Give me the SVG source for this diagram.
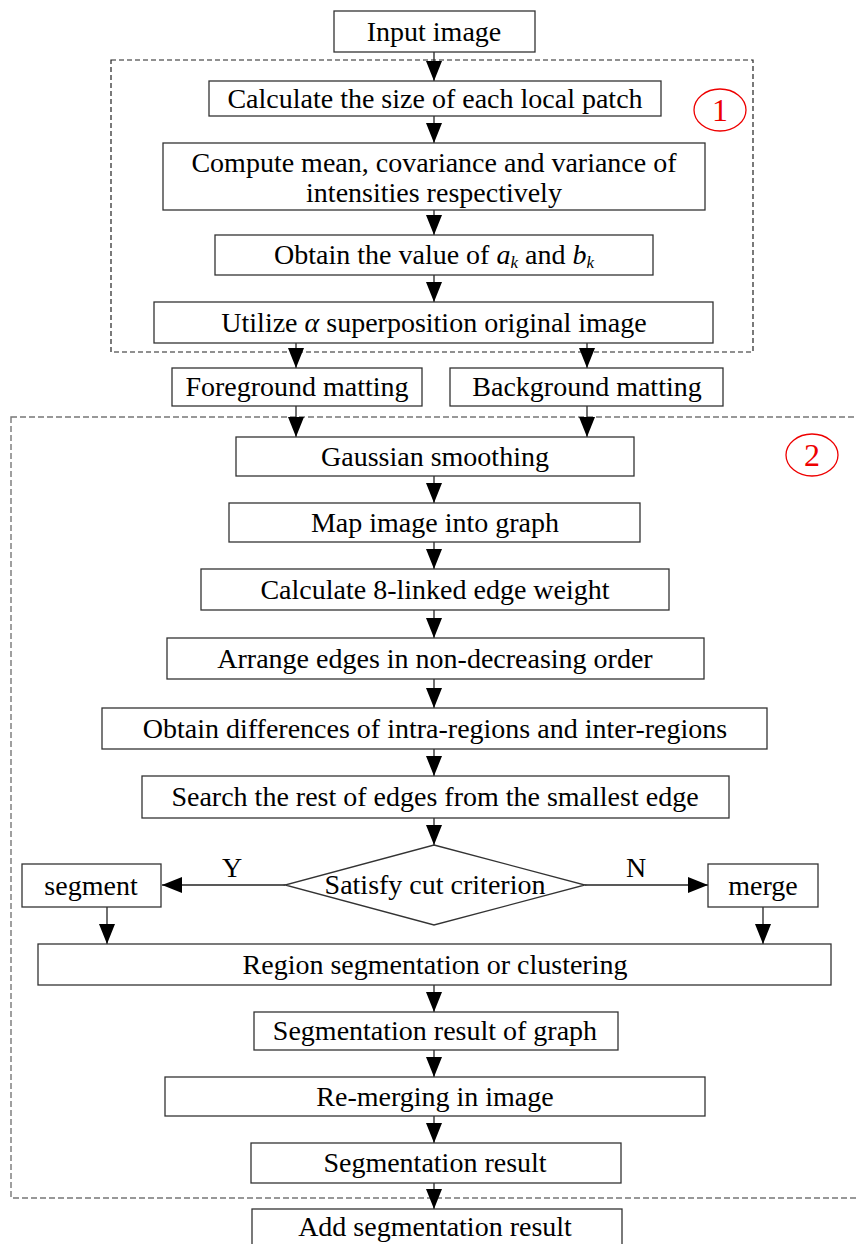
<svg xmlns="http://www.w3.org/2000/svg" width="857" height="1244" viewBox="0 0 857 1244">
<style>
.box{fill:#fff;stroke:#333;stroke-width:1.3}
.t{font-family:"Liberation Serif","Times New Roman",serif;font-size:28px;fill:#000;text-anchor:middle}
.c{stroke:#222;stroke-width:1.3;fill:none}
.dash1{fill:none;stroke:#222;stroke-width:1.2;stroke-dasharray:5,3}
.dash2{fill:none;stroke:#777;stroke-width:1.4;stroke-dasharray:6,3}
.num{fill:none;stroke:#e00;stroke-width:1.3}
.numt{font-family:"Liberation Serif","Times New Roman",serif;font-size:32px;fill:#e00;text-anchor:middle}
</style>
<defs>
<marker id="ah" markerUnits="userSpaceOnUse" markerWidth="22" markerHeight="18" refX="20" refY="8" orient="auto">
<path d="M0,0 L20,8 L0,16 z" fill="#000"/>
</marker>
</defs>
<rect width="857" height="1244" fill="#fff"/>
<g id="groups">
<rect class="dash1" x="111" y="60" width="642" height="292"/>
<rect class="dash2" x="11" y="417" width="860" height="781"/>
<g id="label1"><ellipse class="num" cx="720" cy="110" rx="26" ry="21"/><text class="numt" x="720" y="121">1</text></g>
<g id="label2"><ellipse class="num" cx="812" cy="455" rx="26" ry="21"/><text class="numt" x="812" y="466">2</text></g>
</g>
<g id="connectors">
<line class="c" x1="434" y1="52" x2="434" y2="81" marker-end="url(#ah)"/>
<line class="c" x1="434" y1="116" x2="434" y2="143" marker-end="url(#ah)"/>
<line class="c" x1="434" y1="210" x2="434" y2="235" marker-end="url(#ah)"/>
<line class="c" x1="434" y1="275" x2="434" y2="302" marker-end="url(#ah)"/>
<line class="c" x1="296" y1="343" x2="296" y2="368" marker-end="url(#ah)"/>
<line class="c" x1="587" y1="343" x2="587" y2="368" marker-end="url(#ah)"/>
<line class="c" x1="296" y1="406" x2="296" y2="437" marker-end="url(#ah)"/>
<line class="c" x1="587" y1="406" x2="587" y2="437" marker-end="url(#ah)"/>
<line class="c" x1="434" y1="476" x2="434" y2="503" marker-end="url(#ah)"/>
<line class="c" x1="434" y1="542" x2="434" y2="569" marker-end="url(#ah)"/>
<line class="c" x1="434" y1="610" x2="434" y2="638" marker-end="url(#ah)"/>
<line class="c" x1="434" y1="679" x2="434" y2="708" marker-end="url(#ah)"/>
<line class="c" x1="434" y1="749" x2="434" y2="776" marker-end="url(#ah)"/>
<line class="c" x1="434" y1="818" x2="434" y2="845" marker-end="url(#ah)"/>
<line class="c" x1="285" y1="885" x2="162" y2="885" marker-end="url(#ah)"/>
<line class="c" x1="585" y1="885" x2="708" y2="885" marker-end="url(#ah)"/>
<line class="c" x1="107" y1="907" x2="107" y2="944" marker-end="url(#ah)"/>
<line class="c" x1="763" y1="907" x2="763" y2="944" marker-end="url(#ah)"/>
<line class="c" x1="434" y1="985" x2="434" y2="1012" marker-end="url(#ah)"/>
<line class="c" x1="434" y1="1050" x2="434" y2="1077" marker-end="url(#ah)"/>
<line class="c" x1="434" y1="1116" x2="434" y2="1143" marker-end="url(#ah)"/>
<line class="c" x1="434" y1="1183" x2="434" y2="1209" marker-end="url(#ah)"/>
<text class="t" x="232" y="877">Y</text>
<text class="t" x="636" y="877">N</text>
</g>
<g id="n-input"><rect class="box" x="334" y="11" width="201" height="41"/><text class="t" x="434" y="41">Input image</text></g>
<g id="n-size"><rect class="box" x="209" y="81" width="452" height="35"/><text class="t" x="435" y="108">Calculate the size of each local patch</text></g>
<g id="n-compute"><rect class="box" x="163" y="143" width="542" height="67"/><text class="t" x="434" y="172">Compute mean, covariance and variance of</text><text class="t" x="434" y="202">intensities respectively</text></g>
<g id="n-obtain"><rect class="box" x="215" y="235" width="438" height="40"/><text class="t" x="434" y="264">Obtain the value of <tspan font-style="italic">a</tspan><tspan font-style="italic" font-size="17" dy="4">k</tspan><tspan dy="-4"> and </tspan><tspan font-style="italic">b</tspan><tspan font-style="italic" font-size="17" dy="4">k</tspan></text></g>
<g id="n-utilize"><rect class="box" x="154" y="302" width="559" height="41"/><text class="t" x="434" y="332">Utilize <tspan font-style="italic">α</tspan> superposition original image</text></g>
<g id="n-fg"><rect class="box" x="172" y="368" width="250" height="38"/><text class="t" x="297" y="396">Foreground matting</text></g>
<g id="n-bg"><rect class="box" x="450" y="368" width="273" height="38"/><text class="t" x="587" y="396">Background matting</text></g>
<g id="n-gauss"><rect class="box" x="236" y="437" width="398" height="39"/><text class="t" x="435" y="466">Gaussian smoothing</text></g>
<g id="n-map"><rect class="box" x="229" y="503" width="411" height="39"/><text class="t" x="435" y="532">Map image into graph</text></g>
<g id="n-weight"><rect class="box" x="201" y="569" width="468" height="41"/><text class="t" x="435" y="599">Calculate 8-linked edge weight</text></g>
<g id="n-arrange"><rect class="box" x="167" y="638" width="537" height="41"/><text class="t" x="435" y="668">Arrange edges in non-decreasing order</text></g>
<g id="n-diff"><rect class="box" x="102" y="708" width="665" height="41"/><text class="t" x="435" y="738">Obtain differences of intra-regions and inter-regions</text></g>
<g id="n-search"><rect class="box" x="142" y="776" width="587" height="42"/><text class="t" x="435" y="806">Search the rest of edges from the smallest edge</text></g>
<g id="n-cut"><polygon class="box" points="434,845 585,885 434,925 285,885"/><text class="t" x="435" y="894">Satisfy cut criterion</text></g>
<g id="n-segment"><rect class="box" x="22" y="864" width="139" height="43"/><text class="t" x="91" y="895">segment</text></g>
<g id="n-merge"><rect class="box" x="708" y="864" width="110" height="43"/><text class="t" x="763" y="895">merge</text></g>
<g id="n-region"><rect class="box" x="38" y="944" width="793" height="41"/><text class="t" x="435" y="974">Region segmentation or clustering</text></g>
<g id="n-seggraph"><rect class="box" x="254" y="1012" width="364" height="38"/><text class="t" x="435" y="1040">Segmentation result of graph</text></g>
<g id="n-remerge"><rect class="box" x="165" y="1077" width="540" height="39"/><text class="t" x="435" y="1106">Re-merging in image</text></g>
<g id="n-segres"><rect class="box" x="251" y="1143" width="370" height="40"/><text class="t" x="435" y="1172">Segmentation result</text></g>
<g id="n-add"><rect class="box" x="252" y="1209" width="370" height="45"/><text class="t" x="435" y="1236">Add segmentation result</text></g>
</svg>
